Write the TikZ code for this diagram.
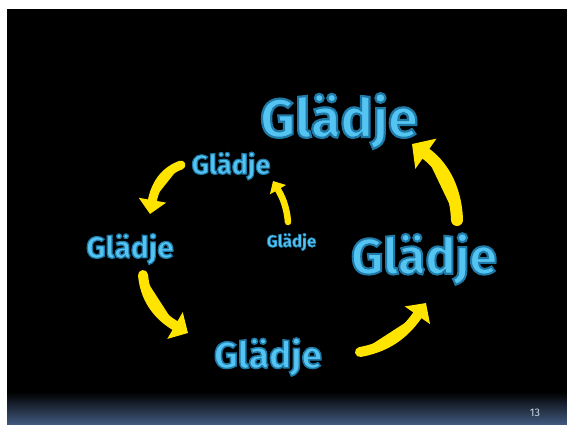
\documentclass[tikz,border=0pt]{standalone}
\usepackage{fontspec}
\setmainfont{Fira Sans}
\usetikzlibrary{arrows.meta}

\definecolor{glblue}{RGB}{84,196,242}
\definecolor{penyellow}{RGB}{255,228,0}
\definecolor{bandbot}{RGB}{64,88,124}
\definecolor{pagenum}{RGB}{205,215,230}
% word with a darker blue rim (stroked glyph outline), #1 = rim width
\newcommand\glaedje[1]{\special{pdf:code q 2 Tr #1 w 0.12 0.48 0.66 RG}Glädje\special{pdf:code Q}}

\begin{document}
\begin{tikzpicture}[
    x=1pt, y=1pt,
    word/.style={font=\bfseries\fontsize{#1}{#1}\selectfont, text=glblue, inner sep=2pt},
    pen/.style={draw=penyellow, fill=penyellow, line cap=round}
  ]
  % slide background
  \fill[white] (0,0) rectangle (567,424);
  \useasboundingbox (0,0) rectangle (567,424);
  \fill[black] (7,0) rectangle (567,415);
  \shade[top color=black, bottom color=bandbot] (7,0) rectangle (567,32);
  \node[font=\fontsize{11}{11}\selectfont, text=pagenum] (num) at (535,11) {13};

  % the words
  \node[word=54] (big) at (339,303) {\glaedje{2.2}};
  \node[word=27] (top) at (231,258) {\glaedje{1.1}};
  \node[word=30] (left) at (130,175) {\glaedje{1.2}};
  \node[word=17] (small) at (291.5,182) {\glaedje{0.6}};
  \node[word=50] (right) at (424,165) {\glaedje{2}};
  \node[word=37] (bottom) at (268,67) {\glaedje{1.5}};

  % arrow ends
  \coordinate (a1s) at (181,259);
  \coordinate (a1e) at (150,210);
  \coordinate (a2s) at (143,149);
  \coordinate (a2e) at (188,91);
  \coordinate (a3s) at (360,72);
  \coordinate (a3e) at (426,121);
  \coordinate (a4s) at (457,204);
  \coordinate (a4e) at (412,280);
  \coordinate (a5s) at (288,202);
  \coordinate (a5e) at (273,243);

  % yellow arrows
  \draw[pen, line width=9pt, -{Triangle[length=14pt,width=27pt]}] (a1s) to[out=200,in=80] (a1e);
  \draw[pen, line width=10pt, -{Triangle[length=15pt,width=30pt]}] (a2s) to[out=275,in=150] (a2e);
  \draw[pen, line width=10pt, -{Triangle[length=15pt,width=30pt]}] (a3s) to[out=10,in=235] (a3e);
  \draw[pen, line width=12pt, -{Triangle[length=17pt,width=36pt]}] (a4s) to[out=92,in=325] (a4e);
  \draw[pen, line width=6.5pt, -{Triangle[length=10pt,width=18pt]}] (a5s) to[out=95,in=300] (a5e);
\end{tikzpicture}
\end{document}
